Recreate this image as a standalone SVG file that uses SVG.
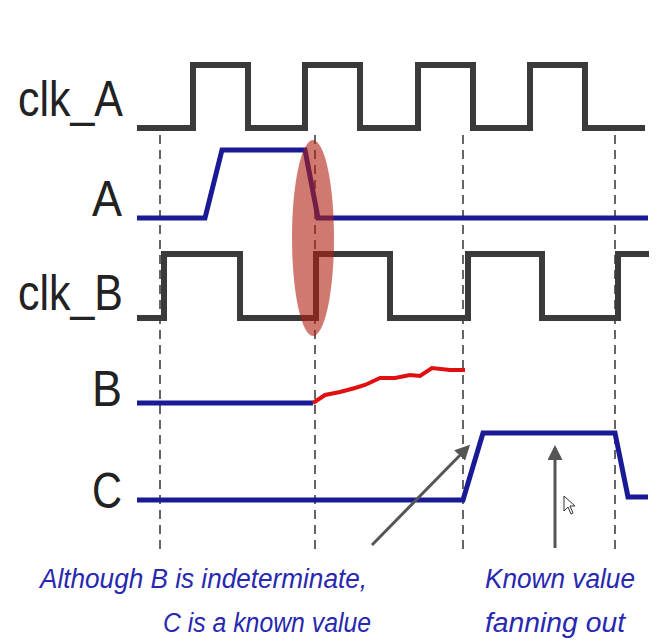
<svg xmlns="http://www.w3.org/2000/svg" width="669" height="642" viewBox="0 0 669 642">
<style>
.clk{fill:none;stroke:#3a3a3a;stroke-width:6;stroke-linejoin:miter}
.sig{fill:none;stroke:#1a1a96;stroke-width:5}
.dash{stroke:#333;stroke-width:1.5;stroke-dasharray:9,6}
.lbl{font-family:"Liberation Sans",Arial,sans-serif;font-size:50px;fill:#222}
.note{font-family:"Liberation Sans",Arial,sans-serif;font-size:27px;font-style:italic;fill:#2828b0}
.arr{stroke:#555;stroke-width:3}
</style>
<defs><marker id="ah" markerWidth="5" markerHeight="5" refX="4" refY="2.5" orient="auto"><path d="M0,0L5,2.5L0,5z" fill="#555"/></marker></defs>
<rect width="669" height="642" fill="#fff"/>
<g id="guides">
<line class="dash" x1="160" y1="135" x2="160" y2="555"/>
<line class="dash" x1="315" y1="135" x2="315" y2="555"/>
<line class="dash" x1="463" y1="135" x2="463" y2="555"/>
<line class="dash" x1="615" y1="135" x2="615" y2="555"/>
</g>
<g id="labels">
<text class="lbl" x="18" y="116" textLength="105" lengthAdjust="spacingAndGlyphs">clk_A</text>
<text class="lbl" x="92" y="216" textLength="30" lengthAdjust="spacingAndGlyphs">A</text>
<text class="lbl" x="18" y="310" textLength="105" lengthAdjust="spacingAndGlyphs">clk_B</text>
<text class="lbl" x="92" y="406" textLength="30" lengthAdjust="spacingAndGlyphs">B</text>
<text class="lbl" x="92" y="508" textLength="30" lengthAdjust="spacingAndGlyphs">C</text>
</g>
<g id="waves">
<path class="clk" d="M137,128H193V65H248V128H305V65H360V128H418V65H473V128H530V65H585V128H645"/>
<path class="clk" d="M137,318H164V254H240V318H316V254H390V318H468V254H542V318H618V254H649"/>
<path class="sig" d="M137,218H205L222,150H305L318,218H648"/>
<path class="sig" d="M137,403H313"/>
<path d="M313,403L325,395L340,392L355,388L365,385L380,378L395,378L410,375L420,376L432,368L450,370L465,370" fill="none" stroke="#e01010" stroke-width="4"/>
<path class="sig" d="M137,500H463L483,433H615L628,497H648"/>
</g>
<ellipse cx="313" cy="238" rx="21" ry="98" fill="#b02010" fill-opacity="0.6"/>
<g id="connectors">
<line class="arr" x1="372" y1="545" x2="468" y2="447" marker-end="url(#ah)"/>
<line class="arr" x1="555" y1="548" x2="555" y2="448" marker-end="url(#ah)"/>
</g>
<path d="M564,496V511L568,507L571,514L573,513L570,506H575Z" fill="#fff" stroke="#333" stroke-width="1"/>
<g id="notes">
<text class="note" x="40" y="588" textLength="327" lengthAdjust="spacingAndGlyphs">Although B is indeterminate,</text>
<text class="note" x="163" y="632" textLength="208" lengthAdjust="spacingAndGlyphs">C is a known value</text>
<text class="note" x="485" y="588" textLength="150" lengthAdjust="spacingAndGlyphs">Known value</text>
<text class="note" x="485" y="632" textLength="140" lengthAdjust="spacingAndGlyphs">fanning out</text>
</g>
</svg>
